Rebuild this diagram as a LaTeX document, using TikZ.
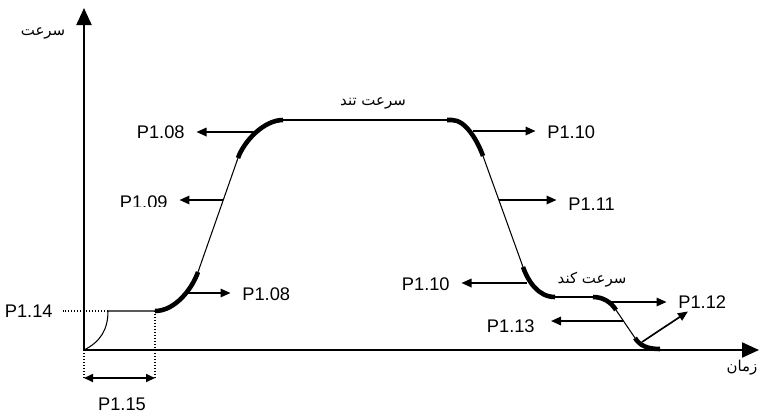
\documentclass[tikz,border=0pt]{standalone}
\usepackage{fontspec}
\setmainfont{Liberation Sans}
\newfontfamily\farsi[Script=Arabic]{DejaVu Sans}
\TeXXeTstate=1
\usetikzlibrary{arrows.meta}
\tikzset{
  axisline/.style={line width=1.2pt, -{Triangle[length=0.34cm,width=0.3cm]}},
  curve/.style={line width=0.6pt},
  thickpart/.style={line width=2.6pt},
  arrow/.style={line width=0.95pt, -{Triangle[length=0.2cm,width=0.17cm]}, shorten >=0.23cm},
  dblarrow/.style={line width=0.95pt, {Triangle[length=0.18cm,width=0.16cm]}-{Triangle[length=0.18cm,width=0.16cm]}},
  guide/.style={line width=0.6pt, dash pattern=on 0.8pt off 0.9pt},
  param/.style={inner sep=0pt, font=\fontsize{10.4}{12}\selectfont},
  fa/.style={inner sep=0pt, font=\farsi\fontsize{8.5}{10}\selectfont},
}

\begin{document}
\begin{tikzpicture}[x=0.02cm, y=-0.02cm]
  \useasboundingbox (0,0) rectangle (759,413);

  % axes
  \coordinate (o) at (84,350);
  \coordinate (ytip) at (84,8);
  \coordinate (xtip) at (759,350);
  \draw[axisline] (o) -- (ytip);
  \draw[axisline] (o) -- (xtip);
  \node[fa] (speed) at (43,33) {\beginR سرعت\endR};
  \node[fa] (time) at (742,368) {\beginR زمان\endR};

  % profile points
  \coordinate (s1) at (108,311);
  \coordinate (s2) at (155,311);
  \coordinate (r1) at (198,272);
  \coordinate (r2) at (238,158);
  \coordinate (r3) at (283,120);
  \coordinate (t1) at (447,120);
  \coordinate (f1) at (483,156);
  \coordinate (f2) at (523,267);
  \coordinate (f3) at (555,297);
  \coordinate (k1) at (593,297);
  \coordinate (k2) at (616,310);
  \coordinate (k3) at (635,338);
  \coordinate (k4) at (660,349);

  \draw[curve] (o) .. controls (100,342) and (108,330) .. (s1) -- (s2);
  \draw[curve] (r1) -- (r2);
  \draw[curve] (r3) -- (t1);
  \draw[curve] (f1) -- (f2);
  \draw[curve] (f3) -- (k1);
  \draw[curve] (k2) -- (k3);

  \draw[thickpart] (s2) .. controls (175,311) and (192,289) .. (r1);
  \draw[thickpart] (r2) .. controls (244,141) and (264,120) .. (r3);
  \draw[thickpart] (t1) -- (452,120) .. controls (466,120) and (478,142) .. (f1);
  \draw[thickpart] (f2) .. controls (528,281) and (538,297) .. (f3);
  \draw[thickpart] (k1) .. controls (603,297) and (611,302) .. (k2);
  \draw[thickpart] (k3) .. controls (640,346) and (648,349) .. (k4);

  \node[fa] (fast) at (373,103) {\beginR سرعت تند\endR};
  \node[fa] (slow) at (592,280) {\beginR سرعت کند\endR};

  % parameter labels
  \node[param, anchor=east] (l108a) at (185,132) {P1.08};
  \begin{scope}
    \clip (100,180) rectangle (175,206);
    \node[param, anchor=east] (l109) at (168,202) {P1.09};
  \end{scope}
  \node[param, anchor=west] (l108b) at (242,294) {P1.08};
  \node[param, anchor=west] (l110a) at (547,132) {P1.10};
  \node[param, anchor=west] (l111) at (568,204) {P1.11};
  \node[param, anchor=east] (l110b) at (450,284) {P1.10};
  \node[param, anchor=west] (l112) at (678,302) {P1.12};
  \node[param, anchor=east] (l113) at (535,326) {P1.13};
  \node[param, anchor=east] (l114) at (53,311) {P1.14};
  \node[param] (l115) at (122,404) {P1.15};

  % arrows
  \coordinate (a108a) at (255,132);
  \coordinate (a109) at (223,200);
  \coordinate (a108b) at (187,293);
  \coordinate (a110a) at (473,131);
  \coordinate (a111) at (499,200);
  \coordinate (a110b) at (527,283);
  \coordinate (a112) at (610,302);
  \coordinate (a112d) at (642,342);
  \coordinate (a113) at (623,321);

  \draw[arrow] (a108a) -- (a108a -| l108a.east);
  \draw[arrow] (a109) -- (a109 -| l109.east);
  \draw[arrow] (a108b) -- (a108b -| l108b.west);
  \draw[arrow] (a110a) -- (a110a -| l110a.west);
  \draw[arrow] (a111) -- (a111 -| l111.west);
  \draw[arrow] (a110b) -- (a110b -| l110b.east);
  \draw[arrow] (a112) -- (a112 -| l112.west);
  \draw[arrow, shorten >=0.1cm] (a112d) -- (l112);
  \draw[arrow, shorten >=0.32cm] (a113) -- (a113 -| l113.east);

  % accel ramp and time
  \coordinate (d1) at (84,378);
  \coordinate (d2) at (155,378);
  \draw[guide, shorten >=0.2cm] (s1) -- (l114.east);
  \draw[guide] (o) -- (d1);
  \draw[guide] (s2) -- (d2);
  \draw[dblarrow] (d1) -- (d2);
\end{tikzpicture}
\end{document}
